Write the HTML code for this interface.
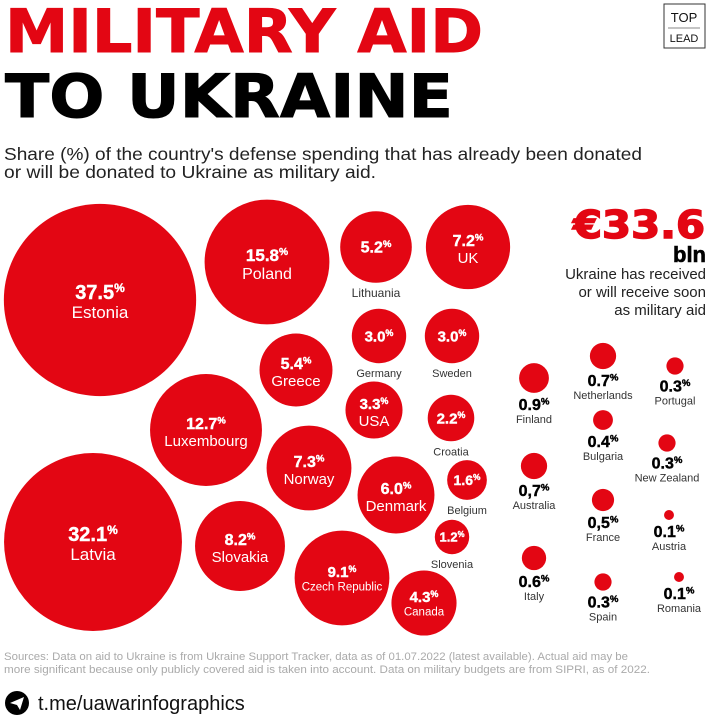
<!DOCTYPE html>
<html><head><meta charset="utf-8">
<style>
html,body{margin:0;padding:0;background:#fff;}
svg{display:block;font-family:"Liberation Sans",sans-serif;}
</style></head>
<body>
<svg id="chart" width="711" height="717" viewBox="0 0 711 717">
  <text x="5" y="52" font-family="DejaVu Sans, sans-serif" font-size="60" font-weight="bold" fill="#e30613" stroke="#e30613" stroke-width="1" textLength="478" lengthAdjust="spacingAndGlyphs">MILITARY AID</text>
  <text x="5" y="117" font-family="DejaVu Sans, sans-serif" font-size="60" font-weight="bold" fill="#000" stroke="#000" stroke-width="1" textLength="448" lengthAdjust="spacingAndGlyphs">TO UKRAINE</text>
  <g>
    <rect x="664" y="4" width="41" height="44" fill="#fff" stroke="#333" stroke-width="1"/>
    <text x="684" y="22" font-size="13" text-anchor="middle" fill="#111">TOP</text>
    <line x1="668" y1="28" x2="700" y2="28" stroke="#888" stroke-width="1"/>
    <text x="684" y="42" font-size="11" text-anchor="middle" fill="#111">LEAD</text>
  </g>
  <text x="4" y="160" font-size="17.5" fill="#222" textLength="638" lengthAdjust="spacingAndGlyphs">Share (%) of the country's defense spending that has already been donated</text>
  <text x="4" y="178" font-size="17.5" fill="#222" textLength="372" lengthAdjust="spacingAndGlyphs">or will be donated to Ukraine as military aid.</text>

  <text x="705" y="238" font-family="DejaVu Sans, sans-serif" font-size="38" font-weight="bold" fill="#e30613" stroke="#e30613" stroke-width="1.5" text-anchor="end" textLength="132" lengthAdjust="spacingAndGlyphs">€33.6</text>
  <text x="706" y="262" font-size="22" font-weight="900" fill="#000" stroke="#000" stroke-width="0.6" text-anchor="end">bln</text>
  <g font-size="15" fill="#222" text-anchor="end">
    <text x="706" y="279">Ukraine has received</text>
    <text x="706" y="297">or will receive soon</text>
    <text x="706" y="315">as military aid</text>
  </g>

  <g id="bubbles"></g>

  <g font-size="11" fill="#aaa">
    <text x="4" y="660" textLength="624" lengthAdjust="spacingAndGlyphs">Sources: Data on aid to Ukraine is from Ukraine Support Tracker, data as of 01.07.2022 (latest available). Actual aid may be</text>
    <text x="4" y="673" textLength="646" lengthAdjust="spacingAndGlyphs">more significant because only publicly covered aid is taken into account. Data on military budgets are from SIPRI, as of 2022.</text>
  </g>
  <g>
    <circle cx="17" cy="703" r="12" fill="#000"/>
    <path d="M10 703 L24 697 L20 710 L17 705 Z" fill="#fff"/>
    <text x="38" y="710" font-size="20" fill="#111">t.me/uawarinfographics</text>
  </g>
</svg>
<script>
const countries = ["Estonia","Latvia","Poland","Luxembourg","Czech Republic","Slovakia","Norway","UK","Denmark","Greece","Lithuania","Canada","USA","Germany","Sweden","Croatia","Belgium","Slovenia","Finland","Netherlands","Australia","Italy","France","Bulgaria","Portugal","New Zealand","Spain","Austria","Romania"];
const labels = ["37.5","32.1","15.8","12.7","9.1","8.2","7.3","7.2","6.0","5.4","5.2","4.3","3.3","3.0","3.0","2.2","1.6","1.2","0.9","0.7","0,7","0.6","0,5","0.4","0.3","0.3","0.3","0.1","0.1"];
const values = [37.5,32.1,15.8,12.7,9.1,8.2,7.3,7.2,6.0,5.4,5.2,4.3,3.3,3.0,3.0,2.2,1.6,1.2,0.9,0.7,0.7,0.6,0.5,0.4,0.3,0.3,0.3,0.1,0.1];
// packed-bubble layout (centre positions + label mode), not data
const layout = {
 "Estonia":[100,300,"in",20,17],"Latvia":[93,542,"in",20,17],"Poland":[267,262,"in",17,16],
 "Luxembourg":[206,430,"in",16,15],"Czech Republic":[342,578,"in",15,11.5],"Slovakia":[240,546,"in",16,15],
 "Norway":[309,468,"in",16,15],"UK":[468,247,"in",16,15],"Denmark":[396,495,"in",16,15],
 "Greece":[296,370,"in",16,15],"Lithuania":[376,247,"inval",16,12],"Canada":[424,603,"in",15,11.5],
 "USA":[374,410,"in",15,15],"Germany":[379,336,"inval",15,11],"Sweden":[452,336,"inval",15,11],
 "Croatia":[451,418,"inval",15,11],"Belgium":[467,480,"inval",14,11],"Slovenia":[452,537,"inval",13,11],
 "Finland":[534,378,"out",16,11],"Netherlands":[603,356,"out",16,11],"Australia":[534,466,"out",16,11],
 "Italy":[534,558,"out",16,11],"France":[603,500,"out",16,11],"Bulgaria":[603,420,"out",16,11],
 "Portugal":[675,366,"out",16,11],"New Zealand":[667,443,"out",16,11],"Spain":[603,582,"out",16,11],
 "Austria":[669,515,"out",16,11],"Romania":[679,577,"out",16,11]
};
function rScale(v){ return 15.7*Math.sqrt(v); }
const NS="http://www.w3.org/2000/svg";
const g=document.getElementById('bubbles');
function mk(tag,attrs,parent){const e=document.createElementNS(NS,tag);for(const k in attrs)e.setAttribute(k,attrs[k]);parent.appendChild(e);return e;}
function valText(parent,x,y,lab,size,fill){
  const t=mk('text',{x:x,y:y,'font-size':size,'font-weight':'900','text-anchor':'middle',fill:fill,stroke:fill,'stroke-width':0.4},parent);
  t.textContent=lab;
  const s=mk('tspan',{'font-size':size*0.6,dy:-size*0.35},t);
  s.textContent='%';
  return t;
}
countries.forEach((c,i)=>{
  const L=layout[c]; const cx=L[0], cy=L[1], mode=L[2], vs=L[3], ns=L[4];
  const r=rScale(values[i]);
  const grp=mk('g',{},g);
  
  
  mk('circle',{cx:cx,cy:cy,r:r,fill:'#e30613'},grp);
  if(mode==='in'){
    valText(grp,cx,cy-1,labels[i],vs,'#fff');
    const n=mk('text',{x:cx,y:cy+ns+1,'font-size':ns,'text-anchor':'middle',fill:'#fff'},grp);
    n.textContent=c;
  } else if(mode==='inval'){
    valText(grp,cx,cy+vs*0.35,labels[i],vs,'#fff');
    const n=mk('text',{x:cx,y:cy+r+14,'font-size':ns,'text-anchor':'middle',fill:'#333'},grp);
    n.textContent=c;
  } else {
    valText(grp,cx,cy+r+17,labels[i],vs,'#000');
    const n=mk('text',{x:cx,y:cy+r+30,'font-size':ns,'text-anchor':'middle',fill:'#333'},grp);
    n.textContent=c;
  }
});
</script>
</body></html>
